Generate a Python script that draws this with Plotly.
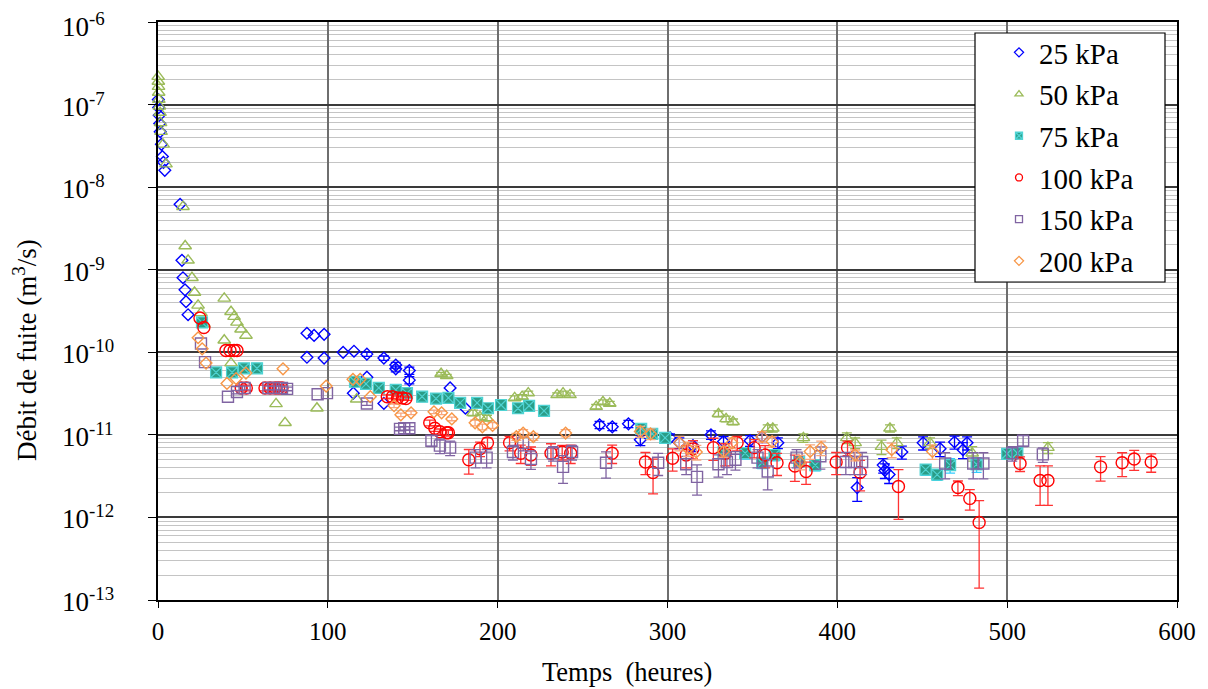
import plotly.graph_objects as go

# ---------------- data (hours, leak rate m3/s, relative error) ----------------
h25 = [0.2, 0.4, 0.7, 1.0, 1.3, 2.0, 2.6, 3.2, 4.0,
       13.0, 14.1, 14.7, 15.9, 16.5, 17.7,
       87.7, 91.9, 97.8, 87.7, 97.8,
       109, 115.4, 123, 133, 140, 140, 148, 148,
       115, 123, 133, 172, 181,
       260, 267.5, 277, 284, 301.5, 307, 315, 325.6, 333, 348.6, 355.7, 365,
       411.7, 427, 428, 430.5, 438, 450.5, 460.5, 469, 474, 476.4]
v25 = [1.15e-7, 9.2e-8, 7.4e-8, 5.9e-8, 4.7e-8, 3.3e-8, 2.35e-8, 2.0e-8, 1.6e-8,
       6.2e-9, 1.3e-9, 8.0e-10, 5.7e-10, 4.1e-10, 2.85e-10,
       1.7e-10, 1.6e-10, 1.65e-10, 8.7e-11, 8.5e-11,
       1.0e-10, 1.03e-10, 9.5e-11, 8.5e-11, 7.0e-11, 6.3e-11, 6.0e-11, 4.6e-11,
       3.2e-11, 5.0e-11, 2.4e-11, 3.7e-11, 2.1e-11,
       1.32e-11, 1.25e-11, 1.36e-11, 8.7e-12, 9.2e-12, 8.0e-12, 7.4e-12, 1.0e-11, 8.3e-12, 8.5e-12, 9.5e-12, 8.0e-12,
       2.3e-12, 4.3e-12, 3.7e-12, 3.3e-12, 6.2e-12, 8.0e-12, 6.8e-12, 8.2e-12, 6.6e-12, 8.0e-12]
e25 = [0, 0, 0, 0, 0, 0, 0, 0, 0,
       0, 0, 0, 0, 0, 0,
       0, 0, 0, 0, 0,
       0, 0, 0.06, 0.06, 0.08, 0.08, 0.1, 0.1,
       0, 0, 0, 0, 0,
       0.1, 0.1, 0.1, 0.15, 0.12, 0.15, 0.15, 0.12, 0.15, 0.15, 0.15, 0.15,
       0.32, 0.2, 0.2, 0.22, 0.18, 0.18, 0.2, 0.18, 0.22, 0.18]

h50 = [0.1, 0.2, 0.3, 0.4, 0.5, 0.8, 1.2, 1.5, 1.8, 3.0, 4.7,
       14.7, 16.0, 17.7, 20.0, 21.5, 23.6, 25.3, 27.0,
       39, 43, 44.8, 46.5, 48.9, 51.8, 39, 43,
       69.5, 74.8, 93.6, 117,
       166.7, 170,
       185.5, 189.6, 193.7,
       210, 214.4, 218,
       235, 238.5, 242.6,
       258, 262, 266,
       330, 334.5, 338.6,
       359, 362,
       380,
       405.6, 410.5,
       426, 431, 435,
       454.6,
       479.4,
       524]
v50 = [2.18e-7, 1.9e-7, 1.65e-7, 1.4e-7, 1.15e-7, 9.5e-8, 8.0e-8, 6.0e-8, 4.7e-8, 3.3e-8, 1.9e-8,
       5.8e-9, 1.94e-9, 1.3e-9, 8.0e-10, 5.3e-10, 3.7e-10, 3.0e-10, 2.2e-10,
       4.5e-10, 3.1e-10, 2.7e-10, 2.3e-10, 1.9e-10, 1.6e-10, 1.4e-10, 7.4e-11,
       2.37e-11, 1.4e-11, 2.1e-11, 2.7e-11,
       5.5e-11, 5.2e-11,
       1.85e-11, 1.65e-11, 1.6e-11,
       2.8e-11, 2.9e-11, 3.2e-11,
       3.05e-11, 3.2e-11, 3.05e-11,
       2.2e-11, 2.5e-11, 2.4e-11,
       1.8e-11, 1.56e-11, 1.44e-11,
       1.2e-11, 1.2e-11,
       9.2e-12,
       9.2e-12, 8.0e-12,
       7.2e-12, 1.2e-11, 8.0e-12,
       8.0e-12,
       6.0e-12,
       7.0e-12]
e50 = [0, 0, 0, 0, 0, 0, 0, 0, 0, 0, 0,
       0, 0, 0, 0, 0, 0, 0, 0,
       0, 0, 0, 0, 0, 0, 0, 0,
       0, 0, 0, 0,
       0.04, 0.04,
       0.08, 0.08, 0.08,
       0.06, 0.06, 0.06,
       0.06, 0.06, 0.06,
       0.06, 0.06, 0.06,
       0.08, 0.08, 0.08,
       0.1, 0.1,
       0.12,
       0.15, 0.15,
       0.2, 0.1, 0.15,
       0.15,
       0.2,
       0.15]

h75 = [25.9, 34.2, 43.6, 50.6, 58.3,
       116, 122.5, 130, 140, 146.6, 155.5, 163.7, 171, 177.9, 187.9, 194.3,
       202, 212, 218.5, 227.3,
       284.5, 291, 298.6,
       333, 345.7, 355.7, 363, 377.5, 387,
       452, 458.8, 466.4, 482, 500, 506]
v75 = [2.3e-10, 5.7e-11, 5.7e-11, 6.4e-11, 6.4e-11,
       4.4e-11, 4.15e-11, 3.7e-11, 3.5e-11, 3.2e-11, 2.9e-11, 2.75e-11, 2.8e-11, 2.44e-11, 2.44e-11, 2.1e-11,
       2.3e-11, 2.1e-11, 2.25e-11, 1.95e-11,
       1.18e-11, 1.03e-11, 9.2e-12,
       6.2e-12, 6.0e-12, 4.6e-12, 5.7e-12, 4.8e-12, 4.3e-12,
       3.8e-12, 3.3e-12, 4.3e-12, 4.4e-12, 5.9e-12, 6.0e-12]
e75 = [0, 0, 0, 0, 0,
       0, 0, 0, 0, 0, 0, 0, 0, 0, 0, 0,
       0.05, 0.05, 0.05, 0.05,
       0.08, 0.08, 0.08,
       0.15, 0.15, 0.15, 0.15, 0.15, 0.15,
       0.15, 0.15, 0.2, 0.2, 0.12, 0.12]

h100 = [24.7, 27.0,
        40, 42.4, 44.8, 46.5,
        49, 52,
        63, 66, 69, 71, 73,
        135, 138, 141, 144, 146,
        160, 163, 166, 170, 171,
        183, 189.6, 194,
        207, 213.6, 219.6, 231.4, 238, 243, 267.4,
        287, 291.5, 303, 311, 315, 327, 334, 341, 351, 357.5, 364.5,
        375, 381.6, 399.3, 406, 413.4, 436,
        471, 478, 483.5, 507.6, 519.4, 524,
        555, 567.7, 574.8, 584.8]
v100 = [2.6e-10, 2.0e-10,
        1.05e-10, 1.05e-10, 1.05e-10, 1.05e-10,
        3.7e-11, 3.7e-11,
        3.7e-11, 3.7e-11, 3.7e-11, 3.7e-11, 3.7e-11,
        2.9e-11, 2.9e-11, 2.8e-11, 2.8e-11, 2.75e-11,
        1.4e-11, 1.2e-11, 1.09e-11, 1.06e-11, 1.06e-11,
        5.0e-12, 6.8e-12, 8.0e-12,
        8.0e-12, 6.0e-12, 5.7e-12, 6.0e-12, 6.2e-12, 6.0e-12, 6.0e-12,
        4.7e-12, 3.5e-12, 5.2e-12, 5.7e-12, 6.8e-12, 7.0e-12, 6.0e-12, 8.0e-12, 7.0e-12, 5.7e-12, 4.6e-12,
        4.2e-12, 3.6e-12, 4.7e-12, 7.0e-12, 3.5e-12, 2.37e-12,
        2.3e-12, 1.7e-12, 8.7e-13, 4.5e-12, 2.8e-12, 2.8e-12,
        4.1e-12, 4.6e-12, 5.1e-12, 4.7e-12]
e100 = [0, 0,
        0, 0, 0, 0,
        0.08, 0.08,
        0.08, 0.08, 0.08, 0.08, 0.08,
        0.05, 0.05, 0.05, 0.05, 0.05,
        0.08, 0.08, 0.08, 0.08, 0.08,
        0.33, 0.2, 0.15,
        0.2, 0.25, 0.25, 0.3, 0.2, 0.25, 0.25,
        0.3, 0.45, 0.3, 0.3, 0.25, 0.3, 0.3, 0.2, 0.25, 0.3, 0.3,
        0.35, 0.3, 0.3, 0.2, 0.4, 0.6,
        0.2, 0.28, 0.84, 0.2, 0.5, 0.5,
        0.33, 0.32, 0.27, 0.25]

h150 = [25.3, 27.7,
        41.2, 46.5, 51,
        65, 68, 73, 76,
        94, 99.5, 123,
        142.5, 145, 148,
        161, 166, 172,
        187, 193.5,
        209, 215, 219.6, 232.6, 238.5, 243.8,
        263.8, 294.5,
        311, 317.4, 330, 335, 340, 353, 359, 376, 390,
        405, 410, 414.6, 463.5, 480, 486, 503, 509.4, 521]
v150 = [1.28e-10, 7.6e-11,
        2.9e-11, 3.3e-11, 3.7e-11,
        3.7e-11, 3.7e-11, 3.7e-11, 3.6e-11,
        3.1e-11, 3.2e-11, 2.4e-11,
        1.18e-11, 1.2e-11, 1.2e-11,
        8.5e-12, 7.4e-12, 7.0e-12,
        5.3e-12, 5.3e-12,
        6.2e-12, 8.0e-12, 5.1e-12, 6.0e-12, 4.1e-12, 6.2e-12,
        4.6e-12, 4.6e-12,
        4.4e-12, 3.1e-12, 4.4e-12, 4.7e-12, 5.0e-12, 5.3e-12, 3.6e-12, 5.3e-12, 5.5e-12,
        4.7e-12, 4.7e-12, 4.7e-12, 4.5e-12, 4.5e-12, 4.5e-12, 6.0e-12, 8.5e-12, 5.8e-12]
e150 = [0, 0,
        0, 0.05, 0.05,
        0.05, 0.05, 0.05, 0.05,
        0, 0, 0.05,
        0.05, 0.05, 0.05,
        0.15, 0.2, 0.2,
        0.25, 0.25,
        0.2, 0.2, 0.25, 0.2, 0.37, 0.2,
        0.35, 0.3,
        0.25, 0.4, 0.3, 0.3, 0.25, 0.25, 0.4, 0.25, 0.3,
        0.3, 0.3, 0.3, 0.35, 0.35, 0.35, 0.2, 0.15, 0.2]

h200 = [23.6, 26, 28.3,
        40.6, 46, 51.8, 73.6,
        99, 114.8, 119, 125,
        139, 143, 149,
        162.5, 167, 173,
        186.7, 191, 197,
        211, 215, 221, 240,
        284, 290,
        307, 312, 317,
        333, 338, 355.7, 361.6,
        378, 384, 390.5,
        410.5, 432, 456]
v200 = [1.5e-10, 1.1e-10, 7.4e-11,
        4.2e-11, 4.8e-11, 5.6e-11, 6.3e-11,
        3.9e-11, 4.7e-11, 4.7e-11, 2.9e-11,
        2.25e-11, 1.75e-11, 1.85e-11,
        1.9e-11, 1.85e-11, 1.56e-11,
        1.4e-11, 1.25e-11, 1.3e-11,
        9.5e-12, 1.05e-11, 9.5e-12, 1.05e-11,
        1.1e-11, 1.03e-11,
        8.0e-12, 6.8e-12, 6.2e-12,
        6.3e-12, 8.0e-12, 9.5e-12, 8.3e-12,
        4.7e-12, 6.3e-12, 7.0e-12,
        5.7e-12, 6.6e-12, 6.3e-12]
e200 = [0, 0, 0,
        0, 0, 0, 0,
        0, 0, 0, 0,
        0.05, 0.05, 0.05,
        0.05, 0.05, 0.05,
        0.08, 0.08, 0.08,
        0.1, 0.1, 0.1, 0.1,
        0.15, 0.15,
        0.2, 0.2, 0.2,
        0.15, 0.15, 0.15, 0.15,
        0.2, 0.2, 0.2,
        0.15, 0.2, 0.2]

series_names = ["25 kPa", "50 kPa", "75 kPa", "100 kPa", "150 kPa", "200 kPa"]
ytick_exp = [-13, -12, -11, -10, -9, -8, -7, -6]
xtick_vals = [0, 100, 200, 300, 400, 500, 600]

# ---------------- styling ----------------
FONT = "Liberation Serif"
styles = [
    dict(symbol="diamond-open", size=9, color="#0000FF", lw=1.4, ec="#0000FF"),
    dict(symbol="triangle-up-open", size=11, color="#9BBB59", lw=1.4, ec="#9BBB59"),
    dict(symbol="square-x", size=11, color="#2A9D87", lw=1.2, lc="#4FD3D3", ec="#33CCFF"),
    dict(symbol="circle-open", size=12, color="#FF0000", lw=1.4, ec="#FF3333"),
    dict(symbol="square-open", size=11, color="#8064A2", lw=1.4, ec="#8064A2"),
    dict(symbol="diamond-open", size=9, color="#F79646", lw=1.4, ec="#F8A880"),
]
data = [(h25, v25, e25), (h50, v50, e50), (h75, v75, e75),
        (h100, v100, e100), (h150, v150, e150), (h200, v200, e200)]

fig = go.Figure()
for name, (h, v, e), st in zip(series_names, data, styles):
    mk = dict(symbol=st["symbol"], size=st["size"], color=st["color"],
              line=dict(width=st["lw"], color=st.get("lc", st["color"])))
    hn = [a for a, r in zip(h, e) if r == 0]
    vn = [b for b, r in zip(v, e) if r == 0]
    he = [a for a, r in zip(h, e) if r > 0]
    ve = [b for b, r in zip(v, e) if r > 0]
    ee = [b * r for b, r in zip(v, e) if r > 0]
    fig.add_trace(go.Scatter(x=hn, y=vn, mode="markers", marker=mk, showlegend=False,
                             cliponaxis=False, hoverinfo="x+y"))
    fig.add_trace(go.Scatter(x=he, y=ve, mode="markers", marker=mk, showlegend=False,
                             cliponaxis=False, hoverinfo="x+y",
                             error_y=dict(type="data", array=ee, symmetric=True,
                                          color=st["ec"], thickness=1.3, width=5)))

# legend-only traces (smaller symbols, like the reference)
for name, st in zip(series_names, styles):
    lmk = dict(symbol=st["symbol"], size=7, color=st["color"],
               line=dict(width=1.3, color=st.get("lc", st["color"])))
    fig.add_trace(go.Scatter(x=[None], y=[None], mode="markers", name=name,
                             marker=lmk, legendgroup=name))

# page body has an 8px margin: size the figure so the plot box lands where the reference has it
OFF = 8
W, H = 1200, 681
L, R, T, B = 150, 31, 14, 89
pw, ph = W - L - R, H - T - B

def px_x(p):
    return (p - OFF - L) / pw

def px_y(p):
    return (H - B + OFF - p) / ph

annotations = []
for k in ytick_exp:
    annotations.append(dict(text=f"10<sup>{k}</sup>", xref="paper", yref="y",
                            x=px_x(60), y=k, xanchor="left", yanchor="middle",
                            yshift=(-3 if k == max(ytick_exp) else 0),
                            showarrow=False, font=dict(family=FONT, size=27, color="black")))
annotations.append(dict(text="Débit de fuite (m<sup>3</sup>/s)", xref="paper", yref="paper",
                        x=px_x(25), y=px_y(350), textangle=-90, showarrow=False,
                        xanchor="center", yanchor="middle",
                        font=dict(family=FONT, size=27, color="black")))
annotations.append(dict(text="Temps\u00a0 (heures)", xref="paper", yref="paper",
                        x=px_x(627), y=px_y(672), showarrow=False,
                        xanchor="center", yanchor="middle",
                        font=dict(family=FONT, size=26.5, color="black")))

shapes = [dict(type="rect", xref="paper", yref="paper",
               x0=px_x(975), x1=px_x(1165), y0=px_y(282), y1=px_y(33),
               fillcolor="white", line=dict(color="black", width=1.2), layer="above")]

fig.update_layout(
    width=W, height=H,
    margin=dict(l=L, r=R, t=T, b=B, pad=0),
    paper_bgcolor="white", plot_bgcolor="white",
    font=dict(family=FONT, size=25, color="black"),
    showlegend=True,
    legend=dict(x=px_x(999), y=px_y(27), xanchor="left", yanchor="top",
                bgcolor="rgba(0,0,0,0)", borderwidth=0,
                font=dict(family=FONT, size=29, color="black"),
                tracegroupgap=1, itemsizing="trace"),
    annotations=annotations,
    shapes=shapes,
    xaxis=dict(range=[0, 600], tickvals=xtick_vals, ticks="outside", ticklen=6,
               tickcolor="black", tickfont=dict(family=FONT, size=25),
               showline=True, linecolor="black", linewidth=1.5, mirror=True,
               showgrid=True, gridcolor="#6E6E6E", gridwidth=1.5, zeroline=False,
               ticklabelstandoff=2),
    yaxis=dict(type="log", range=[-13, -6], dtick=1, ticks="outside", ticklen=8,
               tickcolor="black", showticklabels=False,
               showline=True, linecolor="black", linewidth=1.5, mirror=True,
               showgrid=True, gridcolor="#3A3A3A", gridwidth=1.5, zeroline=False,
               minor=dict(dtick="D1", showgrid=True, gridcolor="#C4C4C4", gridwidth=1.2,
                          ticks="")),
)

fig.write_html("out.html")
